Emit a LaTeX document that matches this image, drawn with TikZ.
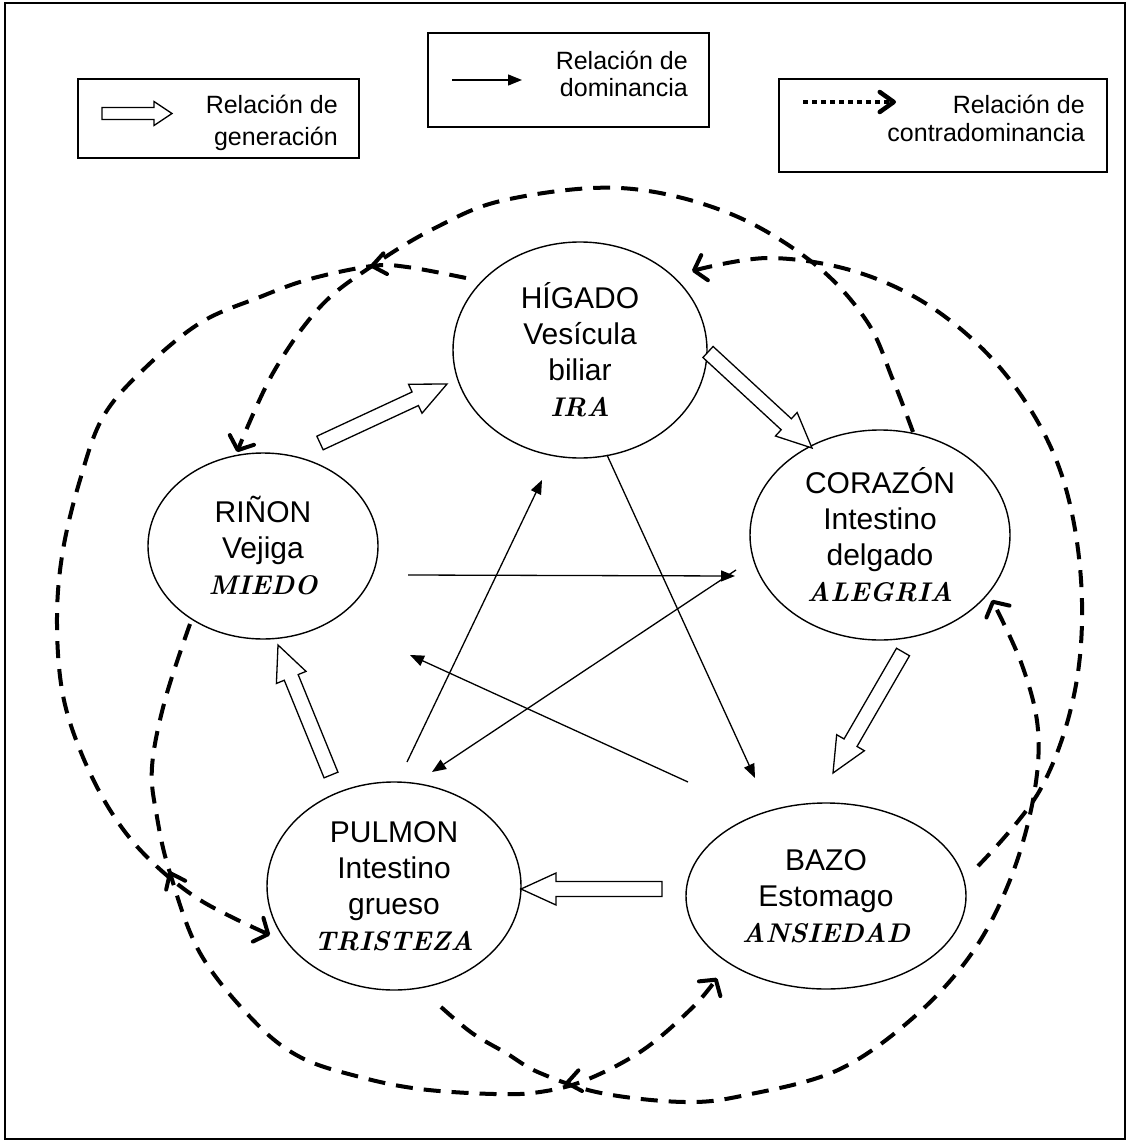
\documentclass[tikz,border=0pt]{standalone}
\usepackage{fontspec}
\usetikzlibrary{arrows.meta,shapes.geometric,calc}
\newfontfamily\arialf{Liberation Sans}
\newcommand{\emotxt}[1]{{\rmfamily\bfseries\itshape\fontsize{27}{35}\selectfont #1}}

% hollow block arrow from coordinate #1 to coordinate #2
\newcommand{\genarrow}[2]{%
  \path let \p1=(#1), \p2=(#2) in
    \pgfextra{%
      \pgfmathsetmacro{\gaang}{atan2((\y2)-(\y1),(\x2)-(\x1))}%
      \pgfmathsetmacro{\galen}{veclen((\x2)-(\x1),(\y2)-(\y1))}%
      \global\let\gaang\gaang \global\let\galen\galen};
  \begin{scope}[shift={(#1)},rotate=\gaang]
    \draw[genline] (0pt,-7.5pt) -- (\galen pt-35pt,-7.5pt) -- (\galen pt-35pt,-16pt)
      -- (\galen pt,0pt) -- (\galen pt-35pt,16pt) -- (\galen pt-35pt,7.5pt) -- (0pt,7.5pt) -- cycle;
  \end{scope}}

% open chevron with apex at coordinate #1 pointing towards angle #2
\newcommand{\chev}[2]{%
  \draw[contrahead] ([shift={(#2+142:17pt)}]#1) -- (#1) -- ([shift={(#2-142:17pt)}]#1);}

\begin{document}
\begin{tikzpicture}[x=1pt,y=-1pt,
  frame/.style={line width=1.5pt},
  legbox/.style={line width=1.3pt},
  organ/.style={ellipse, draw, line width=1.4pt, inner sep=0pt, align=center,
    font=\arialf\fontsize{30}{36}\selectfont},
  legtext/.style={anchor=base east, inner sep=0pt, font=\arialf\fontsize{25}{30}\selectfont},
  dom/.style={line width=1.3pt, -{Triangle[length=14pt,width=11pt]}},
  genline/.style={line width=1.3pt, fill=white, line join=miter},
  contra/.style={line width=4pt, dash pattern=on 17pt off 11pt,
    -{Straight Barb[length=11pt,width=26pt,round]}},
  contrahead/.style={line width=4pt, solid, line cap=round, line join=round},
  legdot/.style={line width=4.5pt, dash pattern=on 5pt off 4pt,
    -{Straight Barb[length=14pt,width=20pt,round]}},
]
\useasboundingbox (0,0) rectangle (1128,1142);
\fill[white] (0,0) rectangle (1128,1142);
\draw[frame] (5,3) rectangle (1125,1139);

% ---------- legend ----------
\draw[legbox] (78,79) rectangle (359,158);
\draw[genline] (102,107.5) -- (154,107.5) -- (154,101.5) -- (172,113.5)
  -- (154,125.5) -- (154,119.5) -- (102,119.5) -- cycle;
\node[legtext] (lg1a) at (338,114) {Relación de};
\node[legtext] (lg1b) at (338,146) {generación};

\draw[legbox] (428,33) rectangle (709,127);
\coordinate (lg2s) at (452,80);
\coordinate (lg2e) at (522,80);
\draw[dom] (lg2s) -- (lg2e);
\node[legtext] (lg2a) at (688,70) {Relación de};
\node[legtext] (lg2b) at (688,97) {dominancia};

\draw[legbox] (779,79) rectangle (1107,172);
\coordinate (lg3s) at (803,102);
\coordinate (lg3e) at (896,102);
\draw[legdot] (lg3s) -- (lg3e);
\node[legtext] (lg3a) at (1085,114) {Relación de};
\node[legtext] (lg3b) at (1085,142) {contradominancia};

% ---------- organs ----------
\node[organ, minimum width=254pt, minimum height=216pt] (hig) at (580,350)
  {HÍGADO\\Vesícula\\biliar\\\emotxt{IRA}};
\node[organ, minimum width=260pt, minimum height=210pt] (cor) at (880,535)
  {CORAZÓN\\Intestino\\delgado\\\emotxt{ALEGRIA}};
\node[organ, minimum width=230pt, minimum height=186pt] (rin) at (263,546)
  {RIÑON\\Vejiga\\\emotxt{MIEDO}};
\node[organ, minimum width=254pt, minimum height=208pt] (pul) at (394,886)
  {PULMON\\Intestino\\grueso\\\emotxt{TRISTEZA}};
\node[organ, minimum width=280pt, minimum height=186pt] (baz) at (826,896)
  {BAZO\\Estomago\\\emotxt{ANSIEDAD}};

% ---------- generation (hollow arrows) ----------
\coordinate (g1s) at (320,443);  \coordinate (g1e) at (447,384);
\coordinate (g2s) at (708,352);  \coordinate (g2e) at (812,448);
\coordinate (g3s) at (903,652);  \coordinate (g3e) at (833,773);
\coordinate (g4s) at (662,889);  \coordinate (g4e) at (521,889);
\coordinate (g5s) at (331,775);  \coordinate (g5e) at (278,645);
\genarrow{g1s}{g1e}
\genarrow{g2s}{g2e}
\genarrow{g3s}{g3e}
\genarrow{g4s}{g4e}
\genarrow{g5s}{g5e}

% ---------- dominance (thin arrows) ----------
\coordinate (d1s) at (607,455);  \coordinate (d1e) at (755,778);
\coordinate (d2s) at (407,762);  \coordinate (d2e) at (542,480);
\coordinate (d3s) at (736,570);  \coordinate (d3e) at (432,772);
\coordinate (d4s) at (408,575);  \coordinate (d4e) at (735,576);
\coordinate (d5s) at (688,782);  \coordinate (d5e) at (410,655);
\draw[dom] (d1s) -- (d1e);
\draw[dom] (d2s) -- (d2e);
\draw[dom] (d3s) -- (d3e);
\draw[dom] (d4s) -- (d4e);
\draw[dom] (d5s) -- (d5e);

% ---------- contradominance (dashed curves) ----------
% bazo -> higado, around the right side
\draw[contra] plot[smooth, tension=0.6] coordinates {(978,866) (1040,790) (1075,690)
  (1081,580) (1060,470) (1010,380) (940,313) (860,273) (770,258) (692,271)};
% corazon -> rinon, over the top
\draw[contra] plot[smooth, tension=0.6] coordinates {(913,432) (893,380) (866,320)
  (812,262) (726,212) (620,188) (505,200) (435,228) (372,266) (320,307) (273,373) (237,452)};
% higado -> pulmon, around the left side
\draw[contra] plot[smooth, tension=0.6] coordinates {(466,278) (407,267) (372,266)
  (310,279) (260,297) (200,323) (143,370) (103,417) (80,480) (63,550) (57,617)
  (62,690) (80,750) (110,810) (147,857) (200,900) (270,935)};
% rinon -> bazo, under the bottom
\draw[contra] plot[smooth, tension=0.6] coordinates {(190,624) (165,700) (152,767)
  (157,817) (170,873) (200,953) (253,1020) (300,1057) (360,1077) (420,1089)
  (494,1094) (540,1092) (586,1080) (643,1050) (693,1007) (717,978)};
% pulmon -> corazon, under the bottom and up the right side
\draw[contra] plot[smooth, tension=0.6] coordinates {(441,1007) (472,1033) (506,1053)
  (540,1073) (601,1093) (685,1102) (746,1095) (838,1070) (914,1017) (972,953)
  (1010,880) (1033,800) (1038,730) (1022,665) (992,600)};

% extra chevrons along the curves
\coordinate (a2) at (372,266);
\coordinate (a4) at (170,873);
\coordinate (a6) at (567,1083);
\chev{a2}{190}
\chev{a4}{115}
\chev{a6}{190}
\end{tikzpicture}
\end{document}
